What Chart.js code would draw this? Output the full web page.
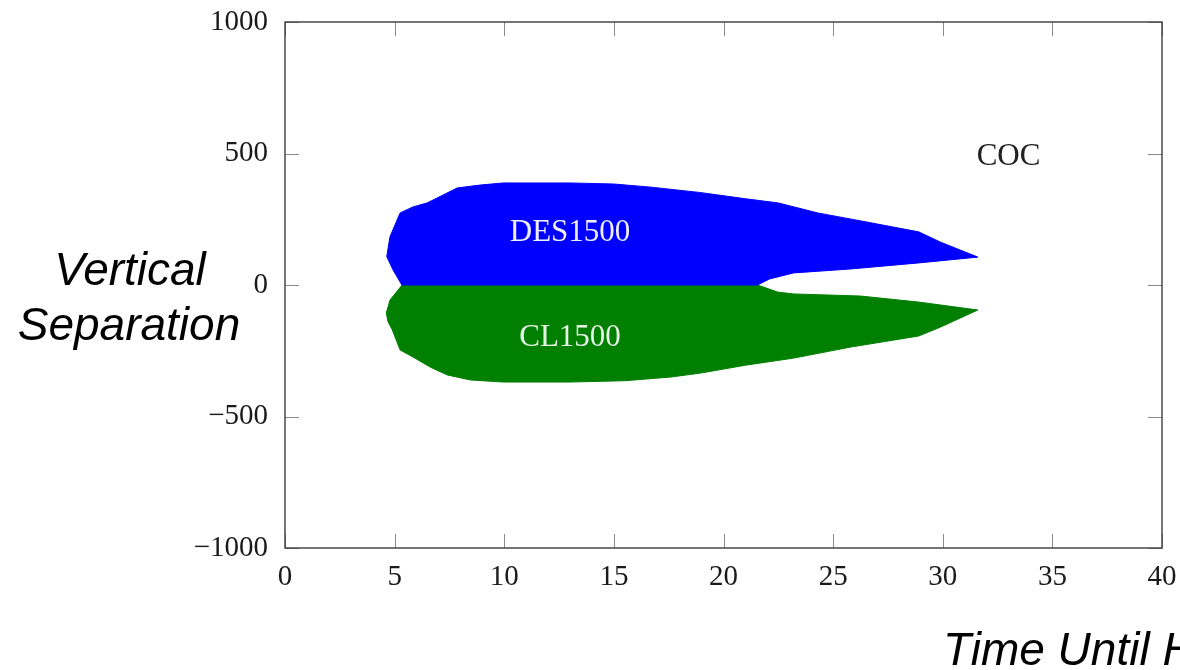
<!DOCTYPE html>
<html>
<head>
<meta charset="utf-8">
<script src="https://cdn.jsdelivr.net/npm/chart.js@4.4.1/dist/chart.umd.min.js"></script>
<style>
  html, body { margin: 0; padding: 0; background: #fff; }
  #chart { display: block; }
</style>
</head>
<body>
<canvas id="chart" width="1180" height="670"></canvas>
<script>
// axis ticks
const xTicks = [0, 5, 10, 15, 20, 25, 30, 35, 40];
const yTicks = [-1000, -500, 0, 500, 1000];

// DES1500 region outline (time, vertical separation)
const desX = [5.33, 4.93, 4.64, 4.79, 5.25, 5.84, 6.48, 6.94, 7.85, 8.9, 9.95, 13.0, 15.0, 16.7, 18.9, 21.0, 22.5, 24.3, 26.5, 28.9, 29.9, 31.6,
              28.9, 25.8, 23.2, 22.1, 21.55, 5.33];
const desY = [0, 57, 108, 184, 274, 297, 312, 331, 369, 380, 388, 388, 384, 372, 352, 328, 312, 274, 240, 202, 163, 106,
              84, 61, 46, 23, 0, 0];

// CL1500 region outline
const clX = [5.34, 4.79, 4.62, 4.7, 4.89, 5.25, 5.84, 6.62, 7.4, 8.45, 9.95, 13.0, 15.5, 17.6, 18.95, 21.0, 23.2, 25.8, 28.9, 29.9, 31.6,
             28.9, 26.25, 23.2, 22.47, 21.55, 5.34];
const clY = [0, -57, -106, -140, -170, -247, -274, -312, -342, -361, -369, -369, -364, -350, -335, -305, -278, -236, -194, -160, -95,
             -65, -42, -34, -27, 0, 0];

// region labels
const regionNames = ['DES1500', 'CL1500', 'COC'];
const regionX = [13.0, 13.0, 33.0];
const regionY = [198, -201, 487];

function toPoints(xs, ys) {
    return xs.map((x, i) => ({ x: x, y: ys[i] }));
}

function fmtTick(v) {
    return (v < 0 ? '\u2212' : '') + Math.abs(v);
}

// frame, inside ticks, labels and axis titles
const decorPlugin = {
    id: 'decor',
    afterDraw(chart) {
        const ctx = chart.ctx;
        const a = chart.chartArea;
        const xs = chart.scales.x;
        const ys = chart.scales.y;
        const tl = 14;
        ctx.save();

        ctx.strokeStyle = '#8a8a8a';
        ctx.lineWidth = 1;
        ctx.beginPath();
        xTicks.forEach(v => {
            const px = Math.round(xs.getPixelForValue(v)) + 0.5;
            ctx.moveTo(px, a.bottom); ctx.lineTo(px, a.bottom - tl);
            ctx.moveTo(px, a.top); ctx.lineTo(px, a.top + tl);
        });
        yTicks.forEach(v => {
            const py = Math.round(ys.getPixelForValue(v)) + 0.5;
            ctx.moveTo(a.left, py); ctx.lineTo(a.left + tl, py);
            ctx.moveTo(a.right, py); ctx.lineTo(a.right - tl, py);
        });
        ctx.stroke();

        ctx.strokeStyle = '#3c3c3c';
        ctx.lineWidth = 1.4;
        ctx.strokeRect(a.left, a.top, a.right - a.left, a.bottom - a.top);

        // region names
        const colors = ['#eeeefc', '#e6f2e6', '#222222'];
        ctx.font = '31px "Liberation Serif", serif';
        ctx.textAlign = 'center';
        ctx.textBaseline = 'middle';
        regionNames.forEach((t, i) => {
            ctx.fillStyle = colors[i];
            ctx.fillText(t, xs.getPixelForValue(regionX[i]), ys.getPixelForValue(regionY[i]));
        });

        // axis titles
        ctx.fillStyle = '#000';
        ctx.font = 'italic 46px "Liberation Sans", Arial, sans-serif';
        ctx.textBaseline = 'alphabetic';
        ctx.textAlign = 'center';
        ctx.fillText('Vertical', 130, 285);
        ctx.fillText('Separation', 129, 340);
        ctx.textAlign = 'left';
        ctx.fillText('Time Until H', 943, 665);
        ctx.restore();
    }
};

const ctx = document.getElementById('chart').getContext('2d');
new Chart(ctx, {
    type: 'scatter',
    data: {
        datasets: [{
            label: 'DES1500',
            data: toPoints(desX, desY),
            showLine: true,
            tension: 0,
            fill: 'shape',
            backgroundColor: '#0000ff',
            borderColor: '#0000ff',
            borderWidth: 1,
            pointRadius: 0
        }, {
            label: 'CL1500',
            data: toPoints(clX, clY),
            showLine: true,
            tension: 0,
            fill: 'shape',
            backgroundColor: '#007f00',
            borderColor: '#007f00',
            borderWidth: 1,
            pointRadius: 0
        }]
    },
    options: {
        responsive: false,
        animation: false,
        layout: { padding: { left: 0, top: 22, right: 18, bottom: 0 } },
        plugins: {
            legend: { display: false },
            tooltip: { enabled: false }
        },
        scales: {
            x: {
                type: 'linear',
                min: 0,
                max: 40,
                afterBuildTicks: s => { s.ticks = xTicks.map(v => ({ value: v })); },
                afterFit: s => {
                    s.height = 122;
                    s.paddingLeft = 0;
                    s.paddingRight = 0;
                },
                grid: { display: false, drawTicks: false },
                border: { display: false },
                ticks: {
                    padding: 12,
                    color: '#1a1a1a',
                    font: { family: '"Liberation Serif", serif', size: 29 },
                    callback: fmtTick
                }
            },
            y: {
                type: 'linear',
                min: -1000,
                max: 1000,
                afterBuildTicks: s => { s.ticks = yTicks.map(v => ({ value: v })); },
                afterFit: s => {
                    s.width = 285;
                    s.paddingTop = 0;
                    s.paddingBottom = 0;
                },
                grid: { display: false, drawTicks: false },
                border: { display: false },
                ticks: {
                    padding: 17,
                    color: '#1a1a1a',
                    font: { family: '"Liberation Serif", serif', size: 29 },
                    callback: fmtTick
                }
            }
        }
    },
    plugins: [decorPlugin]
});
</script>
</body>
</html>
